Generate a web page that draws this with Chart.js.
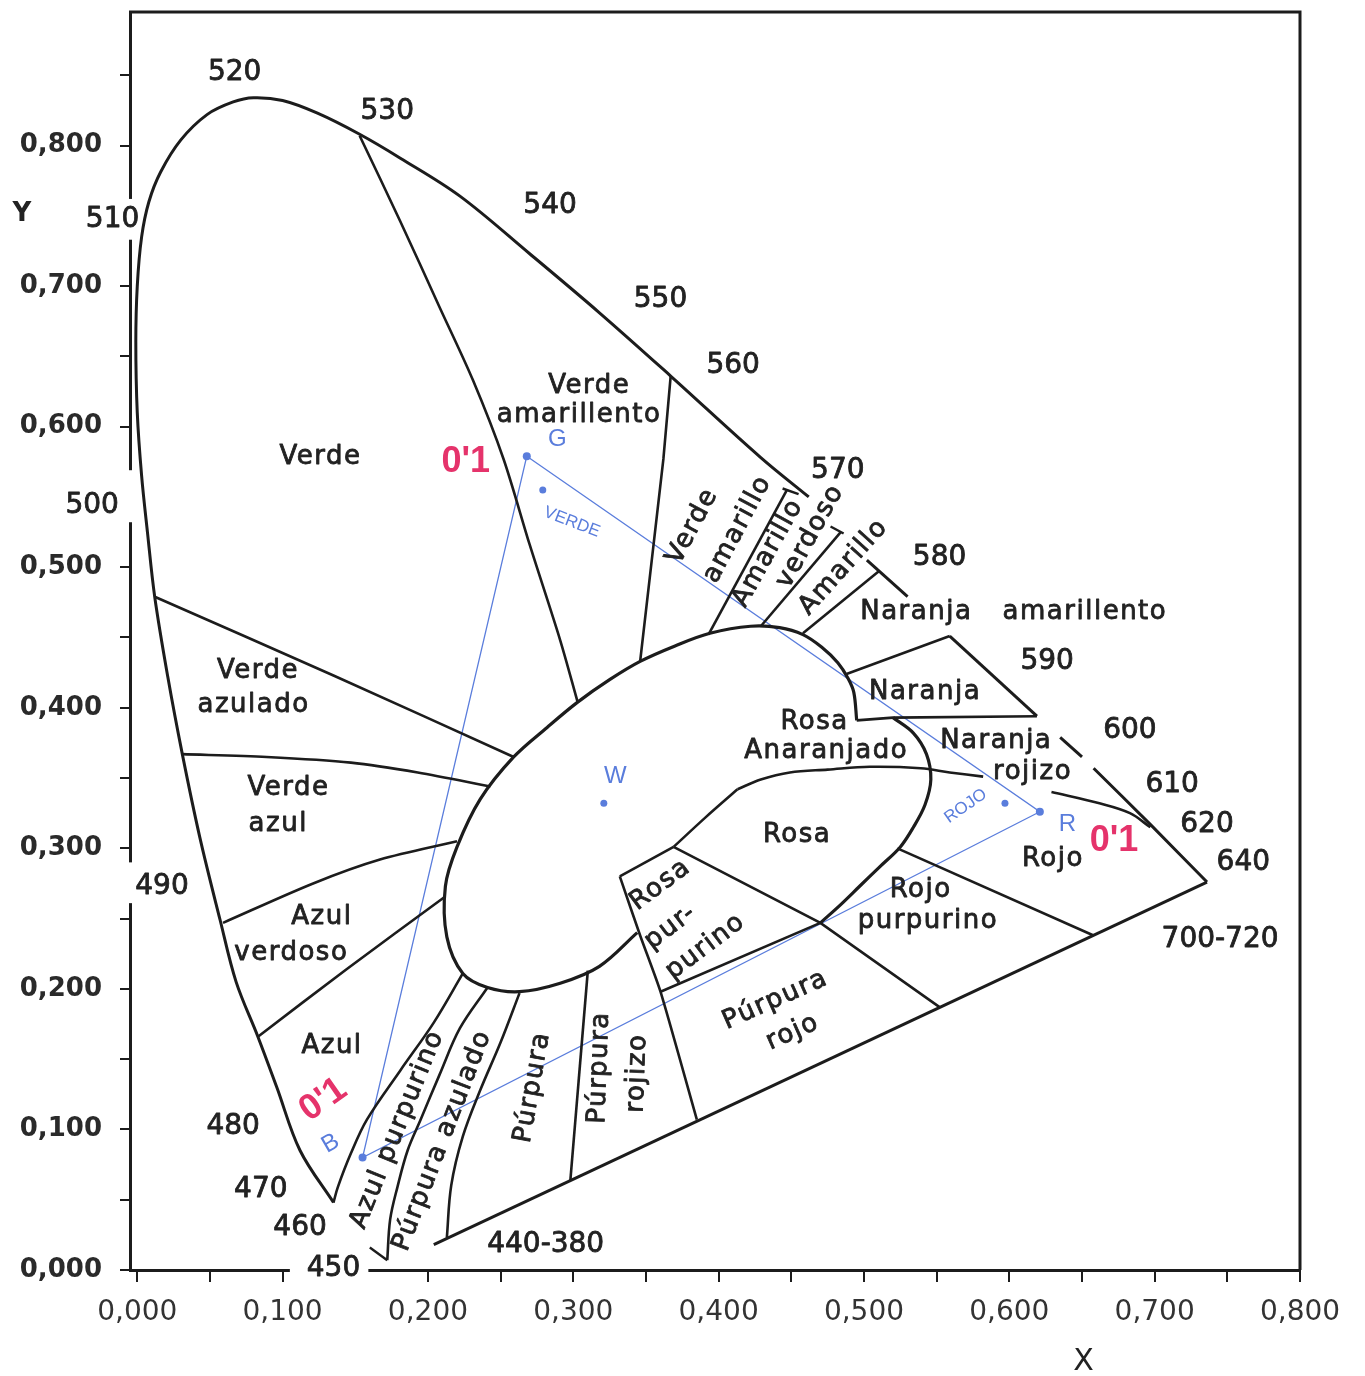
<!DOCTYPE html>
<html>
<head>
<meta charset="utf-8">
<script src="https://cdn.jsdelivr.net/npm/chart.js@4.4.1/dist/chart.umd.min.js"></script>
<style>
  html, body { margin: 0; padding: 0; background: #fff; }
  canvas { display: block; }
</style>
</head>
<body>
<canvas id="cie" width="1365" height="1376"></canvas>
<script>
// ticks
const xTicks = [0, 0.05, 0.1, 0.15, 0.2, 0.25, 0.3, 0.35, 0.4, 0.45, 0.5, 0.55, 0.6, 0.65, 0.7, 0.75, 0.8];
const yTicks = [0, 0.05, 0.1, 0.15, 0.2, 0.25, 0.3, 0.35, 0.4, 0.45, 0.5, 0.55, 0.6, 0.65, 0.7, 0.75, 0.8, 0.85];

// lugar espectral (trozos, como en el original)
const locusMain = [[0.135,0.048],[0.112,0.085],[0.096,0.130],[0.083,0.166],[0.068,0.205],[0.057,0.249],[0.043,0.308],[0.031,0.367],[0.021,0.422],[0.012,0.479],[0.007,0.525],[0.003,0.565],[0.000,0.610],[-0.001,0.660],[0.000,0.700],[0.003,0.735],[0.008,0.760],[0.016,0.781],[0.030,0.804],[0.048,0.822],[0.066,0.831],[0.080,0.834],[0.100,0.832],[0.124,0.823],[0.153,0.808],[0.181,0.791],[0.222,0.764],[0.270,0.723],[0.318,0.681],[0.367,0.636],[0.429,0.578],[0.462,0.550]];
const locus580 = [[0.502,0.505],[0.530,0.479]];
const locus590 = [[0.559,0.451],[0.619,0.394]];
const locus600 = [[0.635,0.379],[0.650,0.365]];
const locusRed = [[0.658,0.357],[0.697,0.317],[0.736,0.276]];
const purpleLine = [[0.204,0.018],[0.736,0.276]];

// zona central (blanco) y lóbulo rosa
const whiteArea = [[0.344,0.240],[0.318,0.216],[0.291,0.204],[0.263,0.198],[0.241,0.201],[0.224,0.211],[0.213,0.237],[0.212,0.273],[0.220,0.301],[0.236,0.335],[0.259,0.365],[0.282,0.386],[0.303,0.404],[0.325,0.420],[0.346,0.433],[0.370,0.444],[0.394,0.453],[0.422,0.458],[0.442,0.457],[0.458,0.452],[0.471,0.443],[0.482,0.432],[0.489,0.421],[0.493,0.411],[0.495,0.391]];
const rosaLobe = [[0.520,0.393],[0.534,0.382],[0.543,0.367],[0.546,0.349],[0.542,0.331],[0.534,0.315],[0.525,0.301],[0.511,0.287],[0.497,0.273],[0.484,0.260],[0.470,0.247]];
const rosaBase = [[0.470,0.247],[0.360,0.198]];

// fronteras entre zonas
const verdeAmarillento = [[0.153,0.807],[0.181,0.746],[0.208,0.685],[0.231,0.633],[0.252,0.577],[0.270,0.516],[0.291,0.448],[0.303,0.404]];
const verdeAzulado = [[0.012,0.479],[0.135,0.423],[0.259,0.365]];
const verdeAzul = [[0.031,0.367],[0.089,0.365],[0.147,0.361],[0.193,0.354],[0.243,0.344]];
const azulVerdoso = [[0.059,0.247],[0.121,0.275],[0.167,0.292],[0.220,0.305]];
const azul = [[0.083,0.166],[0.144,0.214],[0.211,0.265]];
const azulPurpurino = [[0.135,0.048],[0.138,0.059],[0.147,0.083],[0.158,0.107],[0.181,0.142],[0.204,0.176],[0.224,0.211]];
const purpuraAzulado = [[0.172,0.007],[0.174,0.036],[0.179,0.059],[0.186,0.085],[0.195,0.107],[0.208,0.139],[0.222,0.172],[0.241,0.201]];
const purpura = [[0.213,0.023],[0.216,0.060],[0.224,0.095],[0.236,0.128],[0.250,0.162],[0.263,0.197]];
const purpuraRojizo = [[0.298,0.064],[0.310,0.213]];
const purpuraRojo = [[0.385,0.107],[0.360,0.198],[0.346,0.238],[0.332,0.280]];
const rosaPurpurinoTop = [[0.332,0.280],[0.369,0.301]];
const concaveEdge = [[0.369,0.301],[0.391,0.322],[0.413,0.342]];
const rojoPurpurino = [[0.369,0.301],[0.470,0.247],[0.552,0.187]];
const rojoLow = [[0.523,0.300],[0.658,0.238]];
const anaranjado = [[0.413,0.342],[0.429,0.349],[0.449,0.354],[0.475,0.356],[0.504,0.358],[0.539,0.357],[0.559,0.354],[0.582,0.351]];
const rojoTop = [[0.629,0.340],[0.662,0.332],[0.683,0.325],[0.697,0.315]];
const naranjaBottom = [[0.495,0.391],[0.520,0.393],[0.619,0.394]];
const naranjaTop = [[0.488,0.424],[0.559,0.451]];
const amarilloRight = [[0.510,0.497],[0.458,0.453]];
const amarilloLeft = [[0.484,0.525],[0.429,0.458]];
const amarilloVerdosoLeft = [[0.447,0.555],[0.393,0.452]];
const verdeAmarilloLeft = [[0.367,0.636],[0.362,0.577],[0.346,0.433]];
const serifs = [[[0.444,0.556],[0.455,0.552]], [[0.477,0.529],[0.486,0.524]], [[0.160,0.016],[0.172,0.007]]];

// anotaciones a mano
const primaries = [[0.268,0.579],[0.621,0.326],[0.155,0.080],[0.268,0.579]]; // G, R, B
const samples = [[0.279,0.555],[0.597,0.332],[0.321,0.332]]; // verde, rojo, W

// textos
const wavelengthLabels = [['520',0.067,0.852],['530',0.172,0.824],['540',0.284,0.757],['550',0.360,0.690],['560',0.410,0.643],['570',0.482,0.569],['580',0.552,0.507],['590',0.626,0.433],['600',0.683,0.384],['610',0.712,0.345],['620',0.736,0.317],['640',0.761,0.290],['700-720',0.745,0.235],['510',-0.017,0.747],['500',-0.031,0.544],['490',0.017,0.273],['480',0.066,0.102],['470',0.085,0.057],['460',0.112,0.030],['450',0.135,0.001],['440-380',0.281,0.018]];
const hueLabels = [
  ['Verde',0.126,0.578,0], ['Verde',0.311,0.629,0], ['amarillento',0.304,0.608,0],
  ['Verde',0.083,0.426,0], ['azulado',0.080,0.402,0],
  ['Verde',0.104,0.343,0], ['azul',0.097,0.317,0],
  ['Azul',0.127,0.251,0], ['verdoso',0.106,0.225,0],
  ['Azul',0.134,0.159,0],
  ['Azul purpurino',0.179,0.100,-68],
  ['Púrpura azulado',0.210,0.092,-69],
  ['Púrpura',0.272,0.130,-80],
  ['Púrpura',0.318,0.144,-88], ['rojizo',0.344,0.140,-88],
  ['Púrpura',0.439,0.192,-24], ['rojo',0.451,0.169,-24],
  ['Rosa',0.360,0.274,-37], ['pur-',0.367,0.244,-37], ['purino',0.391,0.230,-37],
  ['Rosa',0.454,0.309,0],
  ['Rosa',0.466,0.390,0], ['Anaranjado',0.474,0.369,0],
  ['Rojo',0.539,0.270,0], ['purpurino',0.544,0.248,0],
  ['Rojo',0.630,0.292,0],
  ['Naranja',0.591,0.376,0], ['rojizo',0.616,0.354,0],
  ['Naranja',0.542,0.411,0],
  ['Naranja',0.536,0.468,0], ['amarillento',0.652,0.468,0],
  ['Verde',0.382,0.529,-62], ['amarillo',0.413,0.527,-62],
  ['Amarillo',0.434,0.510,-61], ['verdoso',0.463,0.522,-61],
  ['Amarillo',0.486,0.500,-48]
];
const blueNotes = [['G',0.289,0.591,0],['VERDE',0.299,0.532,21],['W',0.329,0.351,0],['ROJO',0.570,0.330,-35],['R',0.640,0.317,0],['B',0.133,0.090,-30]];
const redNotes = [["0'1",0.226,0.575,0],["0'1",0.672,0.305,0],["0'1",0.128,0.121,-35]];

// cortes en los ejes donde van los números
const yGaps = [[0.733,0.762],[0.532,0.569],[0.261,0.290]];
const xGaps = [[0.105,0.159]];

const INK = '#1c1c1c';
const BLUE = '#5a7ddc';
const RED = '#e5336b';

function path(points, width, tension = 0, color = INK) {
  return {
    data: points.map(([x, y]) => ({ x, y })),
    showLine: true,
    borderColor: color,
    borderWidth: width,
    pointRadius: 0,
    tension,
    fill: false
  };
}

function fmt(v) {
  const k = Math.round(v * 100);
  return k % 10 === 0 ? v.toFixed(3).replace('.', ',') : '';
}

const datasets = [
  path(locusMain, 3, 0.35),
  path(locus580, 3), path(locus590, 3), path(locus600, 3),
  path(locusRed, 3, 0.3), path(purpleLine, 3),
  path(whiteArea, 3.2, 0.35), path(rosaLobe, 3.2, 0.35), path(rosaBase, 2.6),
  path(verdeAmarillento, 2.6, 0.3), path(verdeAzulado, 2.6, 0.3), path(verdeAzul, 2.6, 0.3),
  path(azulVerdoso, 2.6, 0.3), path(azul, 2.6, 0.3), path(azulPurpurino, 2.6, 0.35),
  path(purpuraAzulado, 2.6, 0.35), path(purpura, 2.6, 0.35), path(purpuraRojizo, 2.6),
  path(purpuraRojo, 2.6, 0.2), path(rosaPurpurinoTop, 2.6), path(concaveEdge, 2.6, 0.3),
  path(rojoPurpurino, 2.6), path(rojoLow, 2.6), path(anaranjado, 2.6, 0.35),
  path(rojoTop, 2.6, 0.35), path(naranjaBottom, 2.6), path(naranjaTop, 2.6),
  path(amarilloRight, 2.6), path(amarilloLeft, 2.6), path(amarilloVerdosoLeft, 2.6),
  path(verdeAmarilloLeft, 2.6),
  ...serifs.map(s => path(s, 2.4)),
  Object.assign(path(primaries, 1.3, 0, BLUE), {
    pointRadius: [4, 4, 4, 0], pointBackgroundColor: BLUE, pointBorderWidth: 0
  }),
  {
    data: samples.map(([x, y]) => ({ x, y })),
    showLine: false, pointRadius: 3.5, pointBackgroundColor: BLUE, pointBorderWidth: 0
  }
];

function drawText(ctx, text, px, py, angle, font, color, spacing, heavy) {
  ctx.save();
  ctx.translate(px, py);
  ctx.rotate(angle * Math.PI / 180);
  ctx.font = font;
  ctx.fillStyle = color;
  ctx.letterSpacing = spacing || '0px';
  ctx.textAlign = 'center';
  ctx.textBaseline = 'middle';
  ctx.fillText(text, 0, 0);
  if (heavy) {
    // el original está impreso con un trazo algo más grueso
    ctx.strokeStyle = color;
    ctx.lineWidth = heavy;
    ctx.lineJoin = 'round';
    ctx.strokeText(text, 0, 0);
  }
  ctx.restore();
}

const annotate = {
  id: 'annotate',
  afterDraw(chart) {
    const { ctx, chartArea: a } = chart;
    const x = chart.scales.x, y = chart.scales.y;
    ctx.save();
    // marco superior y derecho
    ctx.strokeStyle = INK;
    ctx.lineWidth = 3;
    ctx.beginPath();
    ctx.moveTo(a.left - 1, a.top);
    ctx.lineTo(a.right, a.top);
    ctx.lineTo(a.right, a.bottom);
    ctx.stroke();

    // cortes de los ejes
    ctx.fillStyle = '#fff';
    yGaps.forEach(([lo, hi]) => {
      const t = y.getPixelForValue(hi), b = y.getPixelForValue(lo);
      ctx.fillRect(a.left - 14, t, 18, b - t);
    });
    xGaps.forEach(([lo, hi]) => {
      const l = x.getPixelForValue(lo), r = x.getPixelForValue(hi);
      ctx.fillRect(l, a.bottom - 4, r - l, 18);
    });

    wavelengthLabels.forEach(([t, vx, vy]) => {
      drawText(ctx, t, x.getPixelForValue(vx), y.getPixelForValue(vy), 0, '28px "DejaVu Sans"', '#222', '0px', 0.8);
    });
    hueLabels.forEach(([t, vx, vy, ang]) => {
      drawText(ctx, t, x.getPixelForValue(vx), y.getPixelForValue(vy), ang, '26px "DejaVu Sans"', '#222', '1.5px', 0.8);
    });
    blueNotes.forEach(([t, vx, vy, ang]) => {
      const size = t.length > 1 ? 17 : 24;
      drawText(ctx, t, x.getPixelForValue(vx), y.getPixelForValue(vy), ang, size + 'px "Liberation Sans"', BLUE);
    });
    redNotes.forEach(([t, vx, vy, ang]) => {
      drawText(ctx, t, x.getPixelForValue(vx), y.getPixelForValue(vy), ang, 'bold 36px "Liberation Sans"', RED);
    });

    // títulos de ejes
    drawText(ctx, 'Y', a.left - 108, y.getPixelForValue(0.751), 0, 'bold 26px "DejaVu Sans"', '#222');
    drawText(ctx, 'X', x.getPixelForValue(0.651), a.bottom + 92, 0, '30px "DejaVu Sans"', '#222');
    ctx.restore();
  }
};

new Chart(document.getElementById('cie'), {
  type: 'scatter',
  data: { datasets },
  options: {
    responsive: false,
    animation: false,
    devicePixelRatio: 1,
    events: [],
    layout: { padding: { top: 12, right: 65, left: 0, bottom: 0 } },
    plugins: { legend: { display: false }, tooltip: { enabled: false } },
    scales: {
      x: {
        type: 'linear', min: -0.005, max: 0.8,
        afterBuildTicks: s => { s.ticks = xTicks.map(v => ({ value: v })); },
        afterFit: s => { s.height = 106; s.paddingLeft = 0; s.paddingRight = 0; },
        grid: { drawOnChartArea: false, tickLength: 12, color: INK, lineWidth: 2 },
        border: { display: true, color: INK, width: 3 },
        ticks: {
          autoSkip: false, maxRotation: 0, minRotation: 0, padding: 14,
          color: '#333', font: { family: 'DejaVu Sans', size: 28 },
          callback: v => fmt(v)
        }
      },
      y: {
        type: 'linear', min: 0, max: 0.895,
        afterBuildTicks: s => { s.ticks = yTicks.map(v => ({ value: v })); },
        afterFit: s => { s.width = 130; s.paddingTop = 0; s.paddingBottom = 0; },
        grid: { drawOnChartArea: false, tickLength: 10, color: INK, lineWidth: 2 },
        border: { display: true, color: INK, width: 3 },
        ticks: {
          autoSkip: false, padding: 18,
          color: '#2a2a2a', font: { family: 'DejaVu Sans', size: 26, weight: 'bold' },
          callback: v => fmt(v)
        }
      }
    }
  },
  plugins: [annotate]
});
</script>
</body>
</html>
